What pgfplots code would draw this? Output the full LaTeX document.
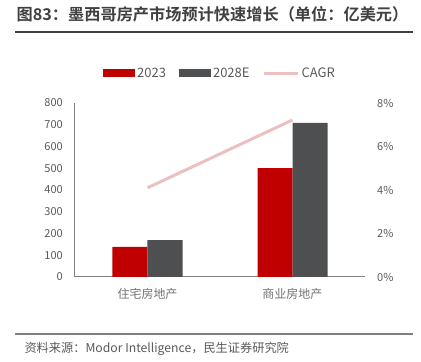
\documentclass[border=0pt]{standalone}
\usepackage{pgfplots}
\pgfplotsset{compat=1.18}
\usepackage{fontspec}
\setmainfont{Noto Sans CJK SC}[BoldFont={Noto Sans CJK SC Bold}]
\definecolor{barred}{RGB}{192,0,0}
\definecolor{bargray}{RGB}{78,79,81}
\definecolor{cagr}{RGB}{236,192,192}
\definecolor{txt}{RGB}{89,89,89}
\definecolor{titletxt}{RGB}{64,64,64}
\begin{document}
\begin{tikzpicture}
\path[use as bounding box] (0pt,0pt) rectangle (421pt,362pt);
\node[font=\fontsize{16.2}{18}\selectfont\bfseries, text=titletxt] at (212.5pt,348pt) {图83：墨西哥房产市场预计快速增长（单位：亿美元）};
\draw[line width=1.5pt, color=titletxt] (15pt,330pt) -- (413pt,330pt);
\draw[line width=1.2pt, color=gray] (15pt,28pt) -- (413pt,28pt);
\node[anchor=west, font=\fontsize{12.2}{14}\selectfont, text=txt] at (21pt,13pt) {资料来源：Modor Intelligence，民生证券研究院};

\begin{axis}[
  at={(75pt,85pt)}, anchor=south west, scale only axis,
  width=290pt, height=174pt,
  xmin=-0.5, xmax=1.5, ymin=0, ymax=800,
  xtick={0,1}, xticklabels={住宅房地产,商业房地产},
  ytick={0,100,...,800},
  axis x line*=bottom, axis y line*=left,
  axis line style={-, draw=gray, line width=1pt},
  major tick length=0pt,
  /pgf/number format/assume math mode=true,
  tick label style={text=txt, font=\fontsize{11}{12}\selectfont},
  yticklabel style={inner xsep=0pt, xshift=-12pt},
  xticklabel style={inner ysep=0pt, yshift=-11pt, font=\fontsize{12}{13}\selectfont, text=txt!85},
  legend style={at={(0.5,1.172)}, anchor=center, draw=none, fill=none,
    font=\fontsize{13}{14}\selectfont, text=txt,
    /tikz/every even column/.append style={column sep=11pt},
    nodes={inner xsep=2pt}},
  legend columns=3,
]
\addplot[ybar, bar width=35pt, bar shift=-17.5pt, fill=barred, draw=none,
  legend image code/.code={\fill[barred] (0pt,-4pt) rectangle (32pt,4pt);}]
  coordinates {(0,139) (1,500)};
\addlegendentry{2023}
\addplot[ybar, bar width=35pt, bar shift=17.5pt, fill=bargray, draw=none,
  legend image code/.code={\fill[bargray] (0pt,-4pt) rectangle (32pt,4pt);}]
  coordinates {(0,170) (1,709)};
\addlegendentry{2028E}
\addlegendimage{legend image code/.code={\draw[cagr, line width=3pt] (0pt,0pt) -- (34pt,0pt);}}
\addlegendentry{CAGR}
\end{axis}

\begin{axis}[
  at={(75pt,85pt)}, anchor=south west, scale only axis,
  width=290pt, height=174pt,
  xmin=-0.5, xmax=1.5, ymin=0, ymax=8,
  axis x line=none, axis y line*=right,
  y axis line style={draw=none},
  ytick={0,2,...,8},
  yticklabel={\pgfmathprintnumber{\tick}\%},
  major tick length=0pt,
  /pgf/number format/assume math mode=true,
  tick label style={text=txt, font=\fontsize{11}{12}\selectfont},
  yticklabel style={inner xsep=0pt, xshift=12pt},
]
\addplot[cagr, line width=3pt] coordinates {(0,4.1) (1,7.22)};
\end{axis}
\end{tikzpicture}
\end{document}
